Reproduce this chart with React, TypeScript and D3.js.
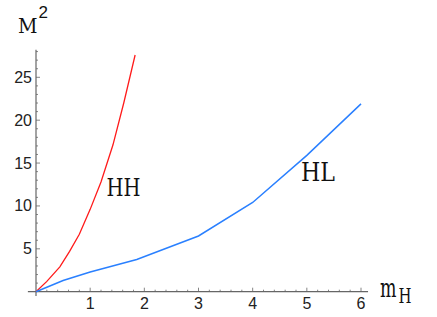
import React, { useEffect, useRef } from 'react';
import * as d3 from 'd3';

// red curve (HH)
const hhX = [0, 0.2, 0.44, 0.62, 0.8, 1.0, 1.2, 1.42, 1.62, 1.83];
const hhY = [0, 1.2, 2.9, 4.7, 6.7, 9.6, 12.8, 17.1, 22.0, 27.6];

// blue curve (HL)
const hlX = [0, 0.5, 1.0, 1.86, 3.0, 4.0, 5.0, 6.0];
const hlY = [0, 1.3, 2.3, 3.75, 6.5, 10.4, 15.9, 21.9];

const xTicks = [1, 2, 3, 4, 5, 6];
const yTicks = [5, 10, 15, 20, 25];

const width = 437;
const height = 317;

function App() {
    const ref = useRef<SVGSVGElement>(null);

    useEffect(() => {
        const svg = d3.select(ref.current);
        svg.selectAll('*').remove();

        const x = d3.scaleLinear().domain([0, 6]).range([36, 361]);
        const y = d3.scaleLinear().domain([0, 25]).range([291.7, 77.3]);
        const axisColor = '#666';

        // axes lines
        svg.append('line')
            .attr('x1', x(-0.15)).attr('x2', x(6.13))
            .attr('y1', y(0)).attr('y2', y(0))
            .attr('stroke', axisColor).attr('stroke-width', 1.2);
        svg.append('line')
            .attr('x1', x(0)).attr('x2', x(0))
            .attr('y1', y(-0.5)).attr('y2', y(28.2))
            .attr('stroke', axisColor).attr('stroke-width', 1.2);

        // x ticks
        const xMinor = d3.range(1, 31).map(i => i * 0.2);
        svg.append('g').selectAll('line')
            .data(xMinor)
            .enter()
            .append('line')
            .attr('x1', d => x(d)).attr('x2', d => x(d))
            .attr('y1', y(0))
            .attr('y2', d => y(0) - (Math.abs(d - Math.round(d)) < 1e-6 ? 4 : 2))
            .attr('stroke', axisColor).attr('stroke-width', 0.8);

        svg.append('g').selectAll('text')
            .data(xTicks)
            .enter()
            .append('text')
            .attr('x', d => x(d))
            .attr('y', 309)
            .attr('text-anchor', 'middle')
            .attr('font-family', 'Liberation Sans, Arial, sans-serif')
            .attr('font-size', 16)
            .attr('fill', '#222')
            .text(d => d);

        // y ticks
        const yMinor = d3.range(1, 29);
        svg.append('g').selectAll('line')
            .data(yMinor)
            .enter()
            .append('line')
            .attr('x1', x(0))
            .attr('x2', d => x(0) + (d % 5 === 0 ? 4 : 2))
            .attr('y1', d => y(d)).attr('y2', d => y(d))
            .attr('stroke', axisColor).attr('stroke-width', 0.8);

        svg.append('g').selectAll('text')
            .data(yTicks)
            .enter()
            .append('text')
            .attr('x', 32)
            .attr('y', d => y(d) + 5.5)
            .attr('text-anchor', 'end')
            .attr('font-family', 'Liberation Sans, Arial, sans-serif')
            .attr('font-size', 16)
            .attr('fill', '#222')
            .text(d => d);

        // curves
        const line = d3.line<[number, number]>()
            .x(d => x(d[0]))
            .y(d => y(d[1]));

        svg.append('path')
            .attr('d', line(hhX.map((v, i) => [v, hhY[i]] as [number, number])))
            .attr('fill', 'none')
            .attr('stroke', '#ff1a1a')
            .attr('stroke-width', 1.3);

        svg.append('path')
            .attr('d', line(hlX.map((v, i) => [v, hlY[i]] as [number, number])))
            .attr('fill', 'none')
            .attr('stroke', '#2a80ff')
            .attr('stroke-width', 1.5);

        // labels
        const serif = 'DejaVu Serif, serif';
        svg.append('text')
            .attr('x', 106.5).attr('y', 196)
            .attr('font-family', serif).attr('font-size', 25)
            .attr('textLength', 34).attr('lengthAdjust', 'spacingAndGlyphs')
            .attr('fill', '#111')
            .text('HH');
        svg.append('text')
            .attr('x', 301).attr('y', 181)
            .attr('font-family', serif).attr('font-size', 26)
            .attr('textLength', 34).attr('lengthAdjust', 'spacingAndGlyphs')
            .attr('fill', '#111')
            .text('HL');

        svg.append('text')
            .attr('x', 18).attr('y', 32.5)
            .attr('font-family', serif).attr('font-size', 20)
            .attr('textLength', 19.5).attr('lengthAdjust', 'spacingAndGlyphs')
            .attr('fill', '#111')
            .text('M');
        svg.append('text')
            .attr('x', 38.5).attr('y', 18)
            .attr('font-family', 'Liberation Sans, Arial, sans-serif').attr('font-size', 17)
            .attr('fill', '#111')
            .text('2');

        // m_H as one text with a subscript tspan
        const mh = svg.append('text')
            .attr('font-family', serif)
            .attr('fill', '#111');
        mh.append('tspan')
            .attr('x', 380).attr('y', 297)
            .attr('font-size', 26)
            .attr('textLength', 16.5).attr('lengthAdjust', 'spacingAndGlyphs')
            .text('m');
        mh.append('tspan')
            .attr('x', 398.5).attr('y', 303)
            .attr('font-size', 21)
            .attr('textLength', 13).attr('lengthAdjust', 'spacingAndGlyphs')
            .text('H');
    }, []);

    return (
        <svg ref={ref} width={width} height={height}
             style={{ position: 'absolute', left: 0, top: 0, background: '#fff' }} />
    );
}

export default App;
